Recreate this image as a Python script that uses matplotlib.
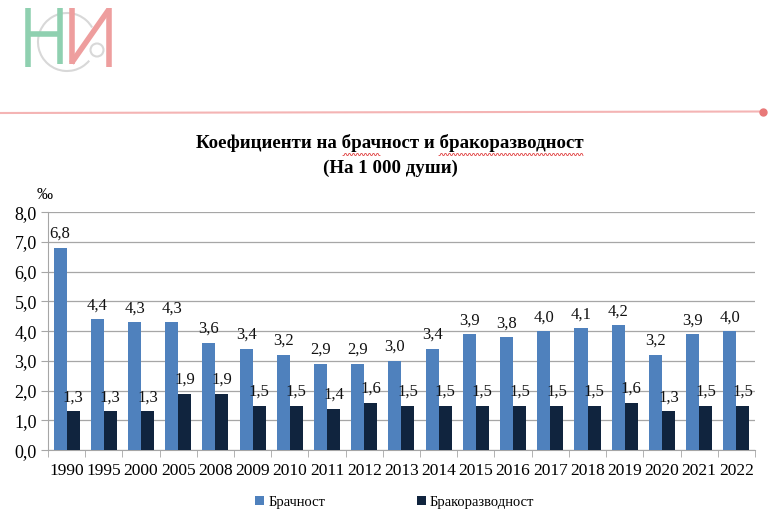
import numpy as np
import matplotlib.pyplot as plt
from matplotlib.ticker import FuncFormatter, FixedLocator
from matplotlib.patches import Circle, Arc

plt.rcParams['font.family'] = ['Liberation Serif', 'DejaVu Serif']

years = ["1990", "1995", "2000", "2005", "2008", "2009", "2010", "2011", "2012", "2013",
         "2014", "2015", "2016", "2017", "2018", "2019", "2020", "2021", "2022"]
marriage = [6.8, 4.4, 4.3, 4.3, 3.6, 3.4, 3.2, 2.9, 2.9, 3.0,
            3.4, 3.9, 3.8, 4.0, 4.1, 4.2, 3.2, 3.9, 4.0]
divorce = [1.3, 1.3, 1.3, 1.9, 1.9, 1.5, 1.5, 1.4, 1.6, 1.5,
           1.5, 1.5, 1.5, 1.5, 1.5, 1.6, 1.3, 1.5, 1.5]

blue = "#4F81BD"
navy = "#10243E"
grid = "#A6A6A6"

def comma(v):
    return f"{v:.1f}".replace(".", ",")

fig = plt.figure(figsize=(7.68, 5.29), dpi=100)
ax = fig.add_axes([0.0625, 0.149, 0.9205, 0.45])

x = np.arange(len(years))
w = 0.35
b1 = ax.bar(x - w / 2, marriage, w, color=blue, label="Брачност", zorder=3)
b2 = ax.bar(x + w / 2, divorce, w, color=navy, label="Бракоразводност", zorder=3)

for bars, vals in ((b1, marriage), (b2, divorce)):
    for r, v in zip(bars, vals):
        ax.text(r.get_x() + r.get_width() / 2, v + 0.2, comma(v),
                ha="center", va="bottom", fontsize=12, color="#111111")

ax.set_xlim(-0.5, len(years) - 0.5)
ax.set_ylim(0, 8)
ax.set_yticks(np.arange(0, 8.1, 1))
ax.yaxis.set_major_formatter(FuncFormatter(lambda v, p: comma(v)))
ax.yaxis.grid(True, color=grid, linewidth=0.9, zorder=0)
ax.set_axisbelow(True)

ax.set_xticks(x)
ax.set_xticklabels(years)
ax.xaxis.set_minor_locator(FixedLocator(np.arange(-0.5, len(years), 1)))
ax.tick_params(axis="x", which="major", length=0, labelsize=12.5, pad=9)
ax.tick_params(axis="x", which="minor", length=5, color=grid, direction="out")
ax.tick_params(axis="y", length=5, color=grid, labelsize=13, pad=3)

for s in ("top", "right"):
    ax.spines[s].set_visible(False)
for s in ("left", "bottom"):
    ax.spines[s].set_color(grid)

fig.text(0.058, 0.632, "‰", fontsize=11.5, ha="center", va="center")

fig.text(0.508, 0.729, "Коефициенти на брачност и бракоразводност",
         fontsize=13.6, fontweight="bold", ha="center", va="center")
fig.text(0.508, 0.682, "(На 1 000 души)",
         fontsize=13.6, fontweight="bold", ha="center", va="center")

# spell-check style wavy underlines
H = 529.0
for x0, x1 in ((343, 380), (439, 583)):
    xs = np.arange(x0, x1 + 0.5, 1.0)
    ys = 154.5 + 1.0 * np.where((np.arange(len(xs)) // 2) % 2 == 0, 1, -1)
    fig.add_artist(plt.Line2D(xs / 768, (H - ys) / H, color="#E04040", lw=0.6))

leg = fig.legend(handles=[b1, b2], loc="center", bbox_to_anchor=(0.514, 0.051),
                 ncol=2, frameon=False, fontsize=10.5, handlelength=0.6,
                 handleheight=0.6, columnspacing=6.3, handletextpad=0.3)

# header: thin red line with dot
fig.add_artist(plt.Line2D([0, 763 / 768], [(H - 113) / H, (H - 111.5) / H],
                          color="#F4B4B4", lw=1.5))
fig.add_artist(plt.Line2D([763 / 768], [(H - 111.5) / H], marker="o",
                          markersize=5, color="#E87878"))

# logo
green = "#8FD0B0"
pink = "#EE9E9E"
grey_c = "#D8D8D8"
lax = fig.add_axes([0, 0, 1, 1], zorder=-1)
lax.set_xlim(0, 768)
lax.set_ylim(529, 0)
lax.axis("off")
lax.add_patch(Arc((67, 42), 58, 58, theta1=40, theta2=330, color=grey_c, lw=1.5))
lax.add_patch(Circle((97, 50), 6.5, fill=False, ec=grey_c, lw=1.5))
lax.plot([27.5, 27.5], [8, 67], color=green, lw=4, solid_capstyle="butt")
lax.plot([60, 60], [8, 64], color=green, lw=4, solid_capstyle="butt")
lax.plot([27.5, 60], [34, 34], color=green, lw=4, solid_capstyle="butt")
lax.plot([71.5, 71.5], [8, 64], color=pink, lw=4, solid_capstyle="butt")
lax.plot([108.5, 108.5], [8, 67], color=pink, lw=4, solid_capstyle="butt")
lax.plot([71.5, 108.5], [63, 10], color=pink, lw=4, solid_capstyle="butt")

fig.savefig("out.png", dpi=100)
